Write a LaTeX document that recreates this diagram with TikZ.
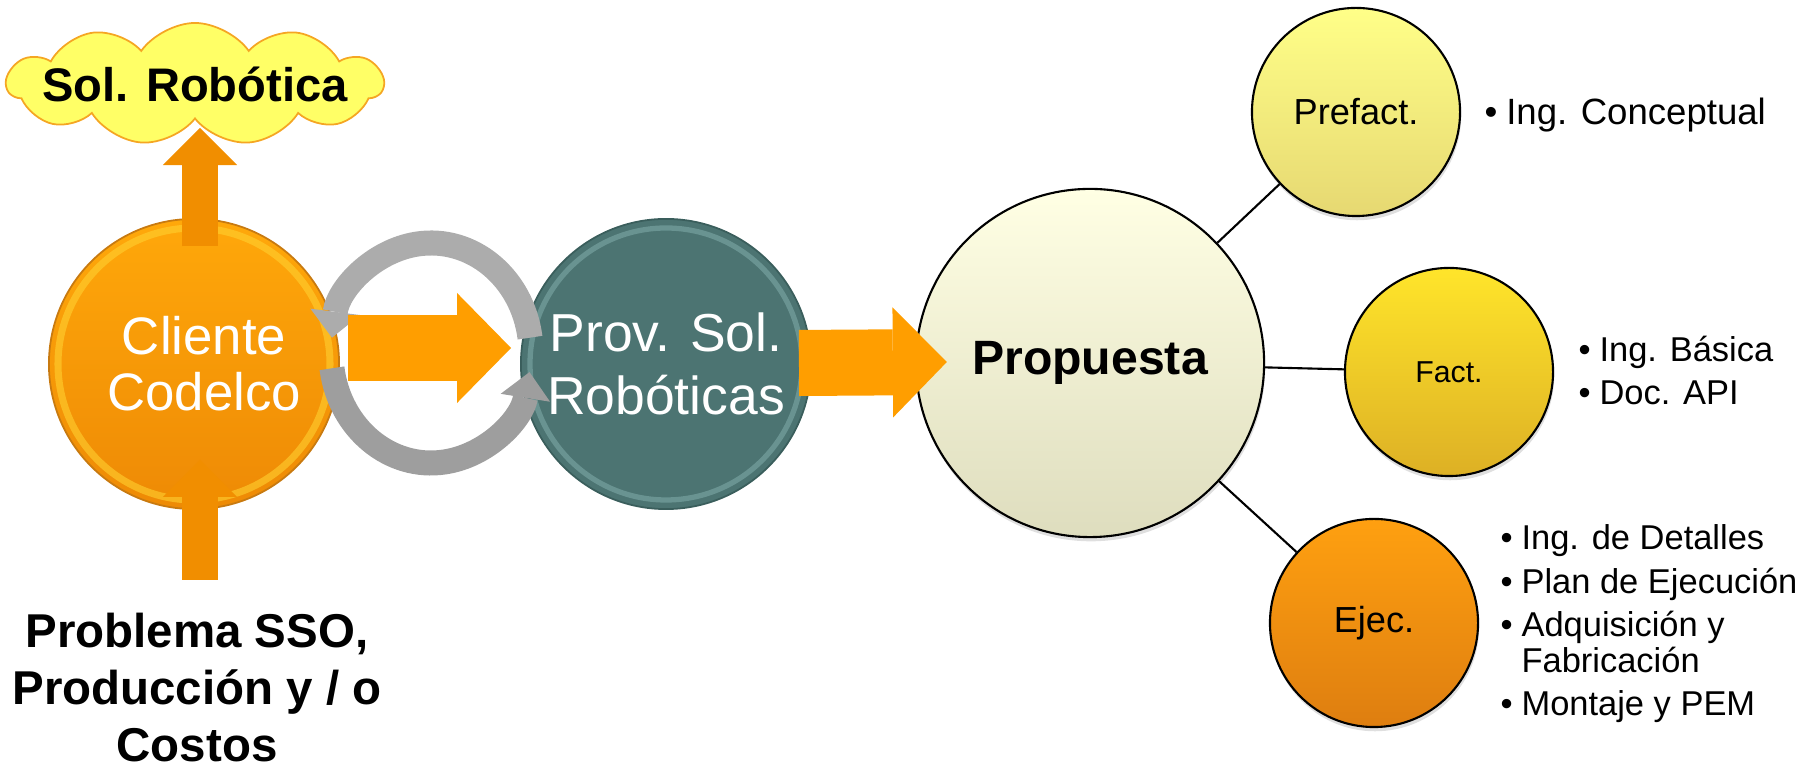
\documentclass[tikz,border=0pt]{standalone}
\usepackage{fontspec}
\setmainfont{Liberation Sans}
\usetikzlibrary{shapes.geometric,shapes.symbols,arrows.meta,calc,shadows,positioning}

\definecolor{clitop}{HTML}{FFA80A}
\definecolor{clibot}{HTML}{EE8A05}
\definecolor{cliedge}{HTML}{C87A10}
\definecolor{clirim}{HTML}{FFD030}
\definecolor{provfill}{HTML}{4C7472}
\definecolor{provedge}{HTML}{3A5E5C}
\definecolor{provrim}{HTML}{86B2B0}
\definecolor{proptop}{HTML}{FFFFE4}
\definecolor{propbot}{HTML}{DEDDBE}
\definecolor{pretop}{HTML}{FFFF88}
\definecolor{prebot}{HTML}{E6D872}
\definecolor{factop}{HTML}{FFE52A}
\definecolor{facbot}{HTML}{DDB025}
\definecolor{ejetop}{HTML}{FFA010}
\definecolor{ejebot}{HTML}{DE7E10}
\definecolor{floworange}{HTML}{FF9E00}
\definecolor{uporange}{HTML}{F18E00}
\definecolor{cloudfill}{HTML}{FFFF66}
\definecolor{cloudedge}{HTML}{F5A623}
\definecolor{cycgraya}{HTML}{ACACAC}
\definecolor{cycgrayb}{HTML}{9E9E9E}

\begin{document}
\begin{tikzpicture}[x=0.01cm, y=-0.01cm,
    bigcirc/.style={circle, inner sep=0pt, minimum size=2.9cm, align=center, text=white,
      font=\fontsize{15}{15.9}\selectfont},
    phase/.style={circle, draw=black, line width=0.6pt, inner sep=0pt, minimum size=2.08cm,
      font=\fontsize{10.3}{12}\selectfont,
      drop shadow={opacity=0.25, shadow xshift=0.3pt, shadow yshift=-1.2pt}},
    items/.style={anchor=base west, inner sep=0pt, font=\fontsize{9.8}{10.2}\selectfont},
    flowarrow/.style={line width=0.66cm, draw=floworange,
      -{Triangle[width=1.1cm, length=0.54cm, line width=0pt]}},
    uparrow/.style={line width=0.36cm, draw=uporange,
      -{Triangle[width=0.74cm, length=0.37cm, line width=0pt]}},
    cyclearc/.style={line width=0.25cm,
      -{Triangle[width=0.5cm, length=0.26cm, line width=0pt]}}]
  \useasboundingbox (0,0) rectangle (1806,768);

  % Main circles
  \node[bigcirc, top color=clitop, bottom color=clibot, draw=cliedge, line width=0.5pt] (cli) at (194,364)
    {\hspace*{5.7pt}Cliente\\\hspace*{5.7pt}Codelco};
  \draw[clirim, line width=2pt, opacity=0.6] (cli) circle[radius=136];
  \node[bigcirc, fill=provfill, draw=provedge, line width=0.5pt,
    font=\fontsize{15.2}{17.9}\selectfont] (prov) at (666,364) {Prov. Sol.\\Robóticas};
  \draw[provrim, line width=1.5pt, opacity=0.5] (prov) circle[radius=136];

  % Cycle between client and provider
  \coordinate (cyc) at (431,353);
  \draw[cyclearc, draw=cycgraya] ($(cyc)+(-8:100 and 110)$) arc[start angle=-8, end angle=-172, x radius=100, y radius=110];
  \draw[cyclearc, draw=cycgrayb] ($(cyc)+(172:100 and 110)$) arc[start angle=172, end angle=10, x radius=100, y radius=110];

  % Proposal and phases
  \node[circle, draw=black, line width=0.6pt, top color=proptop, bottom color=propbot,
    minimum size=3.48cm, inner sep=0pt, font=\bfseries\fontsize{13.7}{15}\selectfont,
    drop shadow={opacity=0.25, shadow xshift=0.3pt, shadow yshift=-1.2pt}] (prop) at (1090,363) {Propuesta};
  \node[phase, top color=pretop, bottom color=prebot] (pre) at (1356,112) {Prefact.};
  \node[phase, top color=factop, bottom color=facbot, font=\fontsize{8.6}{10}\selectfont] (fac) at (1449,372) {Fact.};
  \node[phase, top color=ejetop, bottom color=ejebot] (eje) at (1374,623) {Ejec.};

  \draw[line width=0.6pt] (prop) -- (pre);
  \draw[line width=0.6pt] (prop) -- (fac);
  \draw[line width=0.6pt] (prop) -- (eje);

  % Flow arrows
  \draw[flowarrow] ($(cli.east)+(8,-16)$) -- ($(prov.west)+(-9,-16)$);
  \draw[flowarrow] ($(prov.east)+(-13,-1)$) -- ($(prop.west)+(32,-1)$);

  % Solution cloud
  \node[cloud, cloud puffs=11, cloud puff arc=110, aspect=3.1, draw=cloudedge, fill=cloudfill,
    line width=0.5pt, minimum width=3.76cm, minimum height=1.22cm, inner sep=0pt,
    font=\bfseries\fontsize{13.4}{15}\selectfont] (sol) at (195,84) {\makebox[0pt]{\raisebox{-1.5pt}{Sol. Robótica}}};

  % Problem text
  \node[anchor=base, inner sep=0pt, font=\bfseries\fontsize{13.5}{16.2}\selectfont] (prob) at (197,648)
    {\begin{tabular}[t]{@{}c@{}}Problema SSO,\\Producción y / o\\Costos\end{tabular}};

  % Vertical arrows
  \draw[uparrow] ($(cli.north)+(6,28)$) -- ($(sol.center)+(5,44)$);
  \draw[uparrow] ($(cli.south)+(6,70)$) -- ($(cli.south)+(6,-50)$);

  % Phase contents
  \node[items, font=\fontsize{10.4}{12}\selectfont] (prel) at (1484,125) {\textbullet\hspace{2.5pt}Ing. Conceptual};
  \node[items, font=\fontsize{9.8}{12.2}\selectfont] (facl) at (1578,362)
    {\begin{tabular}[t]{@{}l@{\hspace{2.5pt}}l@{}}\textbullet & Ing. Básica\\ \textbullet & Doc. API\end{tabular}};
  \node[items] (ejel) at (1500,550)
    {\begin{tabular}[t]{@{}l@{\hspace{2.5pt}}l@{}}\textbullet & Ing. de Detalles\\[2pt] \textbullet & Plan de Ejecución\\[2pt]
      \textbullet & Adquisición y\\ & Fabricación\\[2pt] \textbullet & Montaje y PEM\end{tabular}};
\end{tikzpicture}
\end{document}
